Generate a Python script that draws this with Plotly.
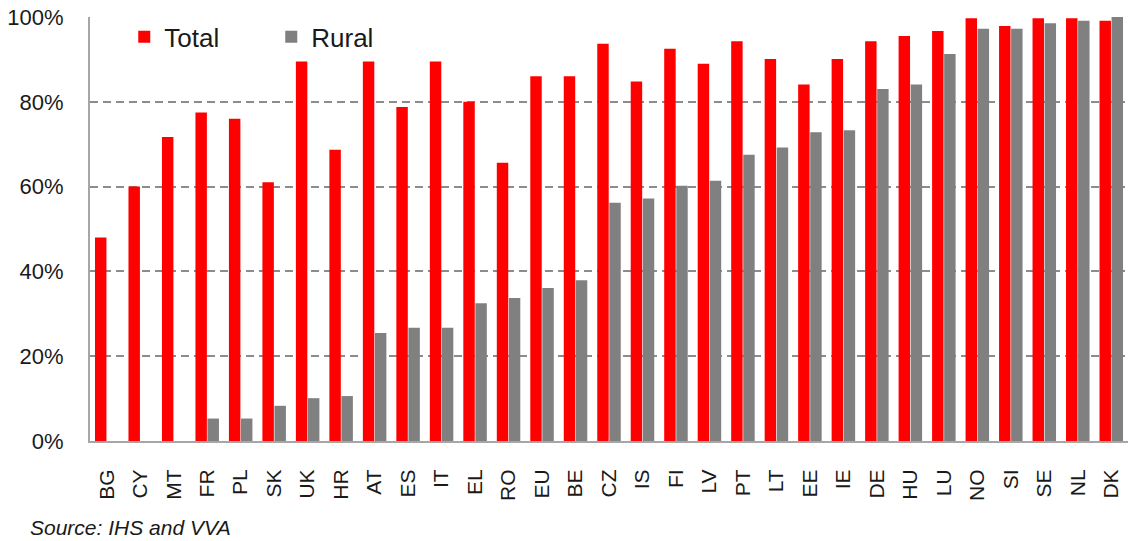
import plotly.graph_objects as go

categories = ["BG", "CY", "MT", "FR", "PL", "SK", "UK", "HR", "AT", "ES", "IT", "EL", "RO", "EU", "BE",
              "CZ", "IS", "FI", "LV", "PT", "LT", "EE", "IE", "DE", "HU", "LU", "NO", "SI", "SE", "NL", "DK"]
total = [48.0, 60.0, 71.7, 77.5, 76.0, 61.0, 89.5, 68.7, 89.5, 78.8, 89.5, 80.0, 65.6, 86.0, 86.0,
         93.7, 84.8, 92.5, 89.0, 94.3, 90.1, 84.1, 90.1, 94.3, 95.5, 96.7, 99.7, 97.9, 99.7, 99.7, 99.1]
rural = [None, None, None, 5.3, 5.3, 8.3, 10.1, 10.6, 25.5, 26.7, 26.7, 32.5, 33.7, 36.1, 37.9,
         56.2, 57.2, 60.2, 61.4, 67.5, 69.2, 72.8, 73.3, 83.0, 84.1, 91.3, 97.2, 97.2, 98.5, 99.1, 100.0]
y_ticks = [0, 20, 40, 60, 80, 100]
y_tick_labels = ["0%", "20%", "40%", "60%", "80%", "100%"]

FONT = "Liberation Sans, Arial, sans-serif"

fig = go.Figure()
fig.add_trace(go.Bar(name="Total", x=categories, y=total, marker=dict(color="#FF0000", line=dict(width=0))))
fig.add_trace(go.Bar(name="Rural", x=categories, y=rural, marker=dict(color="#808080", line=dict(width=0))))

fig.update_layout(
    width=1128, height=541,
    margin=dict(l=90, r=0, t=17, b=100),
    paper_bgcolor="white", plot_bgcolor="white",
    barmode="group", bargap=0.28, bargroupgap=0.05,
    showlegend=True,
    legend=dict(orientation="h", x=0.033, xanchor="left", y=0.953, yanchor="middle",
                font=dict(family=FONT, size=26, color="#1a1a1a"),
                bgcolor="rgba(0,0,0,0)", entrywidth=102, entrywidthmode="pixels",
                itemwidth=30, tracegroupgap=0),
    xaxis=dict(tickangle=-90, tickfont=dict(family=FONT, size=21, color="#1a1a1a"),
               showline=True, linecolor="#a6a6a6", linewidth=2, ticks="",
               ticklabelstandoff=18, showgrid=False),
    yaxis=dict(range=[0, 100], tickvals=y_ticks, ticktext=y_tick_labels,
               tickfont=dict(family=FONT, size=22, color="#1a1a1a"),
               showline=True, linecolor="#a6a6a6", linewidth=2, ticks="",
               ticklabelstandoff=20,
               showgrid=True, gridcolor="#8c8c8c", gridwidth=1.5, griddash="8px,5px",
               zeroline=False),
    annotations=[dict(text="<i>Source: IHS and VVA</i>", xref="paper", yref="paper",
                      x=-0.0597, xanchor="left", y=-0.203, yanchor="middle", showarrow=False,
                      font=dict(family=FONT, size=21, color="#1a1a1a"))],
)

fig.write_html("out.html", config={"displayModeBar": False},
               post_script="document.body.style.margin='0';")
